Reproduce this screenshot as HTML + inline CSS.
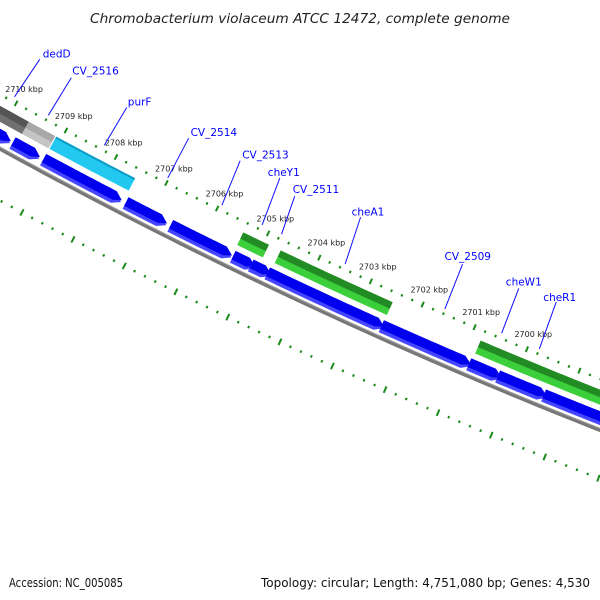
<!DOCTYPE html>
<html><head><meta charset="utf-8"><style>
html,body{margin:0;padding:0;background:#fff}
svg{display:block}
</style></head><body>
<svg id="map" width="600" height="600" viewBox="0 0 600 600" xmlns="http://www.w3.org/2000/svg">
<rect x="0" y="0" width="600" height="600" fill="#fff"/>
<text x="300" y="23" text-anchor="middle" font-family="DejaVu Sans, Liberation Sans, sans-serif" font-style="italic" font-size="13" textLength="420" lengthAdjust="spacingAndGlyphs" fill="#222">Chromobacterium violaceum ATCC 12472, complete genome</text>
<text x="9" y="587" font-family="DejaVu Sans, Liberation Sans, sans-serif" font-size="12" textLength="114" lengthAdjust="spacingAndGlyphs" fill="#111">Accession: NC_005085</text>
<text x="590" y="587" text-anchor="end" font-family="DejaVu Sans, Liberation Sans, sans-serif" font-size="12" textLength="329" lengthAdjust="spacingAndGlyphs" fill="#111">Topology: circular; Length: 4,751,080 bp; Genes: 4,530</text>
<g id="plot"></g>
</svg>
<script>
// ---- data ----
const tickKbp = [2698,2699,2700,2701,2702,2703,2704,2705,2706,2707,2708,2709,2710,2711,2712];
const revStart = [2711.5,2709.72,2709.11,2707.48,2706.60,2705.38,2705.03,2704.71,2702.51,2700.84,2700.29,2699.42];
const revEnd   = [2709.76,2709.18,2707.56,2706.67,2705.40,2704.95,2704.64,2702.46,2700.80,2700.22,2699.36,2697.5];
const fwdStart = [2711.5,2709.65,2709.10,2705.40,2704.67,2700.81,2700.26];
const fwdEnd   = [2709.65,2709.12,2707.53,2704.90,2702.50,2700.26,2697.5];
const fwdKind  = ["darkgray","lightgray","cyan","green","green","green","green"];
const geneNames = ["dedD","CV_2516","purF","CV_2514","CV_2513","cheY1","CV_2511","cheA1","CV_2509","cheW1","cheR1"];
const labelBaseKbp = [2710.08,2709.40,2708.28,2707.02,2705.95,2705.16,2704.78,2703.54,2701.61,2700.52,2699.80];
const labelTopKbp  = [2710.01,2709.36,2708.24,2707.01,2706.01,2705.24,2704.86,2703.64,2701.64,2700.55,2699.84];
// ---- layout ----
const CX = 2498, CY = -4400;
const A0 = 112.54, DEG_PER_KBP = 0.632;
const R_TICK = 5142, R_TICK2 = 5235;
const labelLen = [45,44,44,45,48,50,40,49,48,48,50];
const labelDx = [3,1,1,2,2,-12,-2,-9,-18,-13,-13];
const labelDy = [-2,-3,-2,-2,-2,-2,-3,-2,-4,-3,-1];
const NS = "http://www.w3.org/2000/svg";
const plot = document.getElementById('plot');
function ang(k){ return (A0 + (k-2700)*DEG_PER_KBP)*Math.PI/180; }
function pt(r,k){ const a=ang(k); return [CX + r*Math.cos(a), CY + r*Math.sin(a)]; }
function mk(tag, attrs){ const e=document.createElementNS(NS,tag); for(const k in attrs) e.setAttribute(k,attrs[k]); plot.appendChild(e); return e; }
function arcPts(r,k1,k2,n){ const p=[]; for(let i=0;i<=n;i++){ p.push(pt(r,k1+(k2-k1)*i/n)); } return p; }
function band(k1,k2,r1,r2,tip){
  // k1 high kbp (left), k2 low kbp (right); optional arrow tip at k2
  let body2 = tip ? k2 + 0.15 : k2;
  let p = arcPts(r1,k1,body2,24);
  if(tip){ p.push(pt((r1+r2)/2 + (r2-r1)*0.1, k2)); }
  p = p.concat(arcPts(r2,body2,k1,24));
  return p.map(q=>q[0].toFixed(2)+','+q[1].toFixed(2)).join(' ');
}
// backbone
{
  const p = arcPts(5189.5, 2712, 2697, 60).map(q=>q[0].toFixed(2)+','+q[1].toFixed(2)).join(' ');
  const e = mk('polyline',{points:p,fill:'none',stroke:'#777','stroke-width':4});
  
  
  const p2 = arcPts(5188, 2712, 2697, 60).map(q=>q[0].toFixed(2)+','+q[1].toFixed(2)).join(' ');
  const e2 = mk('polyline',{points:p2,fill:'none',stroke:'#a0a0a0','stroke-width':1});
  
  
}
// reverse strand genes
for(let i=0;i<revStart.length;i++){
  const g = mk('polygon',{points:band(revStart[i],revEnd[i],5172,5185,true),fill:'#4646ff'});
  
  
  const b = mk('polygon',{points:band(revStart[i],revEnd[i],5172,5181.5,true),fill:'#0000ee'});
  
  
}
// forward strand genes
const fwdColors = {darkgray:['#555','#707070'],lightgray:['#a8a8a8','#c4c4c4'],cyan:['#0a9cc4','#22c8f0'],green:['#238b23','#3ccf3c']};
for(let i=0;i<fwdStart.length;i++){
  const c = fwdColors[fwdKind[i]];
  const lo = mk('polygon',{points:band(fwdStart[i],fwdEnd[i],5152,5166,false),fill:c[1]});
  
  
  const split = fwdKind[i]==='cyan' ? 5154 : 5159;
  const hi = mk('polygon',{points:band(fwdStart[i],fwdEnd[i],5152,split,false),fill:c[0]});
  
  
}
// ticks
function tick(r,k,len,w,name){
  const a=pt(r-len/2,k), b=pt(r+len/2,k);
  const e = mk('line',{x1:a[0],y1:a[1],x2:b[0],y2:b[1],stroke:'#1a8a1a','stroke-width':w});
  
  
}
for(let t=0;t<tickKbp.length;t++){
  const k = tickKbp[t];
  tick(R_TICK,k,6,2,'major-tick');
  tick(R_TICK2,k,7,2,'lower-major-tick');
  if(t<tickKbp.length-1){
    for(let j=1;j<5;j++){
      tick(R_TICK,k+j*0.2,2.5,2,'minor-tick');
      tick(R_TICK2,k+j*0.2,2.5,2,'lower-minor-tick');
    }
  }
  if(k>=2700 && k<=2710){
    const lp = pt(R_TICK-16.5,k);
    const tx = mk('text',{x:lp[0].toFixed(1),y:(lp[1]+3).toFixed(1),'text-anchor':'middle','font-family':'DejaVu Sans, Liberation Sans, sans-serif','font-size':'8',fill:'#222'});
    tx.textContent = k + ' kbp';
    
    
  }
}
// gene labels
for(let i=0;i<geneNames.length;i++){
  const a = pt(5137, labelBaseKbp[i]);
  const b = pt(5137-labelLen[i], labelTopKbp[i]);
  const ln = mk('line',{x1:a[0],y1:a[1],x2:b[0],y2:b[1],stroke:'#1010ff','stroke-width':1});
  
  
  const tx = mk('text',{x:(b[0]+labelDx[i]).toFixed(1),y:(b[1]+labelDy[i]).toFixed(1),'font-family':'DejaVu Sans, Liberation Sans, sans-serif','font-size':'10.5',fill:'#0000ff'});
  tx.textContent = geneNames[i];
  
  
}
</script>
</body></html>
